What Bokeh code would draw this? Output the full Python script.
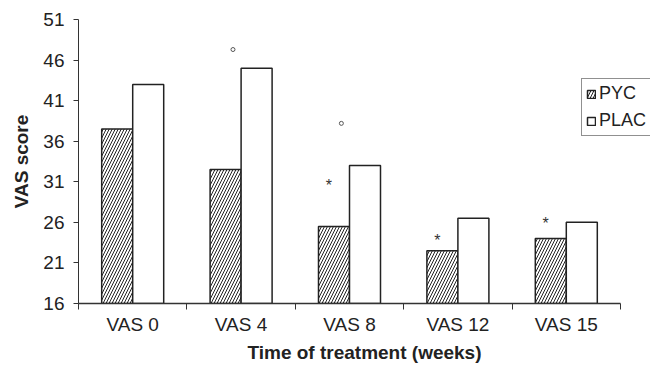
from bokeh.plotting import figure
from bokeh.models import ColumnDataSource, FixedTicker, Legend, LegendItem, Range1d
from bokeh.transform import dodge
from bokeh.core.properties import value
from bokeh.embed import file_html
from bokeh.resources import INLINE
import numpy as np

# ---- data ----
categories = ["VAS 0", "VAS 4", "VAS 8", "VAS 12", "VAS 15"]
pyc = [37.5, 32.5, 25.5, 22.5, 24.0]
plac = [43.0, 45.0, 33.0, 26.5, 26.0]
y_ticks = [16, 21, 26, 31, 36, 41, 46, 51]
# significance marks (category index, level)
star_idx = [2, 3, 4]
star_level = [31.0, 24.3, 26.3]
circle_idx = [1, 2]
circle_level = [47.3, 38.2]

FONT = "Liberation Sans"
n = len(categories)
centers = np.arange(n) + 0.5
BW = 0.286
X_EXTRA = 30 / 108.4   # blank strip right of the last category (legend room)

src = ColumnDataSource(dict(x=centers, pyc=pyc, plac=plac))

p = figure(width=650, height=365, output_backend="svg", toolbar_location=None,
           x_range=Range1d(0, n + X_EXTRA), y_range=Range1d(y_ticks[0], y_ticks[-1]),
           min_border_left=78, min_border_right=0, min_border_top=19,
           min_border_bottom=60)
p.outline_line_color = None
p.grid.visible = False
p.background_fill_color = "white"
p.border_fill_color = "white"

r_pyc = p.vbar(x=dodge("x", -BW / 2, range=p.x_range), top="pyc", bottom=y_ticks[0],
               width=BW, source=src, fill_color="white", line_color="#222222",
               line_width=1.5, hatch_pattern="/", hatch_color="#222222",
               hatch_scale=6, hatch_weight=1)
r_plac = p.vbar(x=dodge("x", BW / 2, range=p.x_range), top="plac", bottom=y_ticks[0],
                width=BW, source=src, fill_color="white", line_color="#222222",
                line_width=1.5)

# significance annotations
p.text(x=[centers[i] - 0.19 for i in star_idx], y=star_level, text=["*"] * len(star_idx),
       text_font=value(FONT), text_font_size="16px", text_align="center",
       text_baseline="middle", y_offset=4, text_color="#333333")
p.scatter(x=[centers[i] - 0.075 for i in circle_idx], y=circle_level, size=4,
          marker="circle", fill_color="white", line_color="#555555", line_width=1)

# axes
xa = p.xaxis[0]
xa.bounds = (0, n)
xa.ticker = FixedTicker(ticks=list(centers), minor_ticks=list(np.arange(n + 1)))
xa.major_label_overrides = {float(c): cat for c, cat in zip(centers, categories)}
xa.major_tick_line_color = None
xa.minor_tick_out = 6
xa.minor_tick_in = 0
xa.minor_tick_line_color = "#333333"
xa.axis_line_color = "#333333"
xa.axis_line_width = 1.5
xa.axis_label = "Time of treatment (weeks)"
xa.major_label_standoff = 4

ya = p.yaxis[0]
ya.ticker = FixedTicker(ticks=y_ticks, minor_ticks=[])
ya.major_tick_out = 5
ya.major_tick_in = 0
ya.major_tick_line_color = "#333333"
ya.axis_line_color = "#333333"
ya.axis_line_width = 1
ya.axis_label = "VAS score"
ya.major_label_standoff = 9
ya.axis_label_standoff = 8

for ax in (xa, ya):
    ax.major_label_text_font = FONT
    ax.major_label_text_font_size = "19px"
    ax.major_label_text_color = "#222222"
    ax.axis_label_text_font = FONT
    ax.axis_label_text_font_size = "19px"
    ax.axis_label_text_font_style = "bold"
    ax.axis_label_text_color = "#222222"
xa.axis_label_standoff = 4

legend = Legend(items=[LegendItem(label="PYC", renderers=[r_pyc]),
                       LegendItem(label="PLAC", renderers=[r_plac])],
                location=(503, 167), orientation="vertical",
                border_line_color="#222222", border_line_width=1,
                background_fill_color="white", background_fill_alpha=1,
                padding=4, spacing=6, glyph_width=10, glyph_height=10,
                label_standoff=3, label_height=19,
                label_text_font=FONT, label_text_font_size="18px",
                label_text_color="#222222")
p.add_layout(legend, "center")

open("out.html", "w").write(file_html(p, INLINE))
